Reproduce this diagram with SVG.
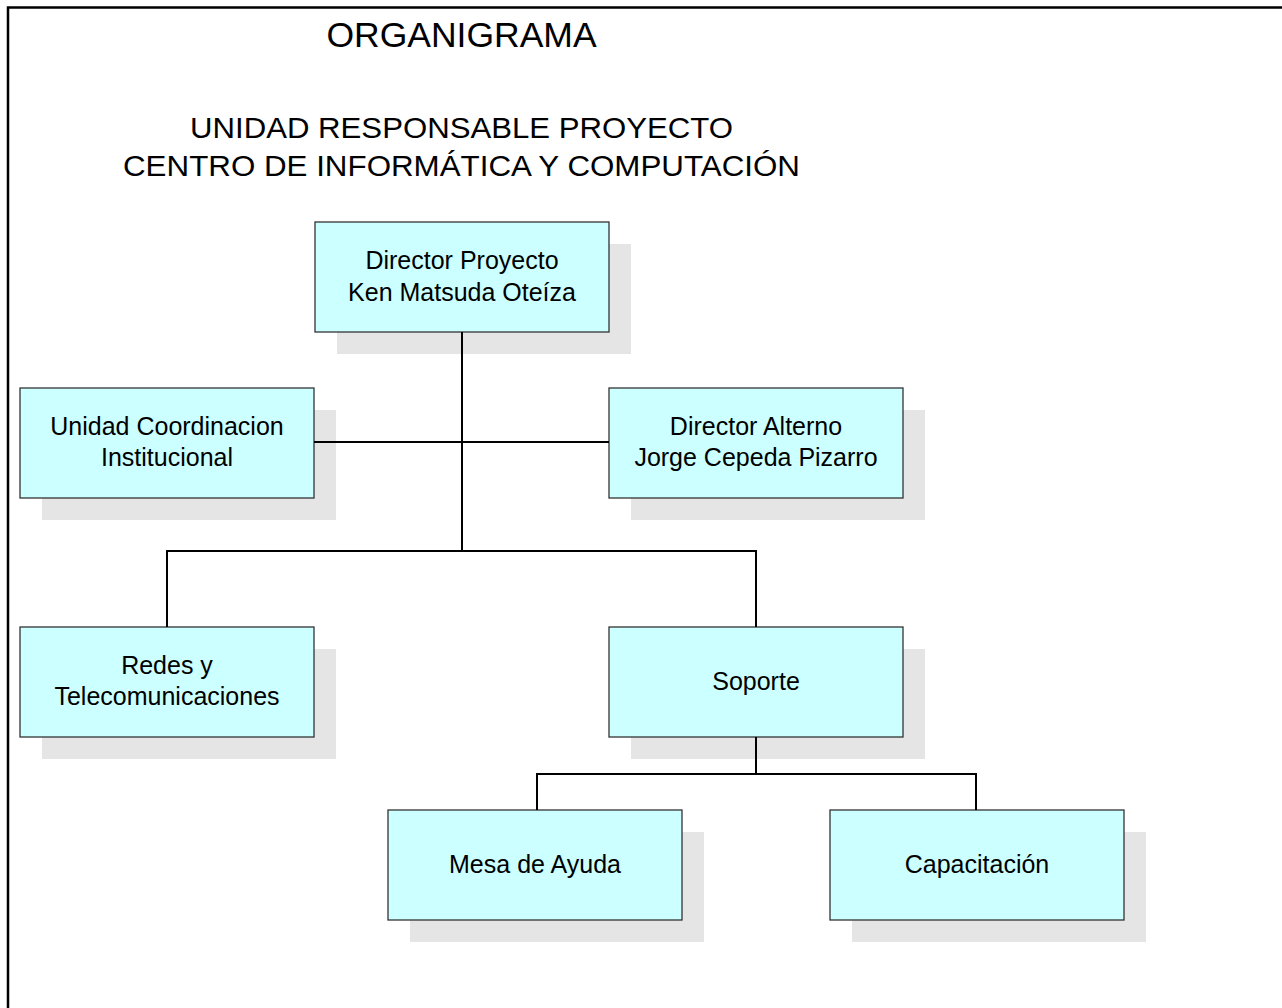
<svg xmlns="http://www.w3.org/2000/svg" width="1282" height="1008" viewBox="0 0 1282 1008">
<style>
.shadow{fill:#e5e5e5}
.box{fill:#ccffff;stroke:#333;stroke-width:1.3}
.lbl{font-family:"Liberation Sans",Arial,sans-serif;font-size:25px;fill:#000;text-anchor:middle}
.title{font-family:"Liberation Sans",Arial,sans-serif;fill:#000;text-anchor:middle}
.conn{fill:none;stroke:#000;stroke-width:2}
</style>
<rect width="1282" height="1008" fill="#fff"/>
<path d="M8,1008 V7.5 H1282" fill="none" stroke="#000" stroke-width="2.5"/>
<text class="title" x="461.5" y="47" font-size="35.5">ORGANIGRAMA</text>
<text class="title" x="461.5" y="138" font-size="29" textLength="543" lengthAdjust="spacingAndGlyphs">UNIDAD RESPONSABLE PROYECTO</text>
<text class="title" x="461.5" y="176" font-size="29" textLength="677" lengthAdjust="spacingAndGlyphs">CENTRO DE INFORMÁTICA Y COMPUTACIÓN</text>
<g id="director-proyecto">
<rect class="shadow" x="337" y="244" width="294" height="110"/>
<rect class="box" x="315" y="222" width="294" height="110"/>
<text class="lbl" x="462" y="269">Director Proyecto</text>
<text class="lbl" x="462" y="301">Ken Matsuda Oteíza</text>
</g>
<g id="unidad-coordinacion">
<rect class="shadow" x="42" y="410" width="294" height="110"/>
<rect class="box" x="20" y="388" width="294" height="110"/>
<text class="lbl" x="167" y="435">Unidad Coordinacion</text>
<text class="lbl" x="167" y="466">Institucional</text>
</g>
<g id="director-alterno">
<rect class="shadow" x="631" y="410" width="294" height="110"/>
<rect class="box" x="609" y="388" width="294" height="110"/>
<text class="lbl" x="756" y="435">Director Alterno</text>
<text class="lbl" x="756" y="466">Jorge Cepeda Pizarro</text>
</g>
<g id="redes">
<rect class="shadow" x="42" y="649" width="294" height="110"/>
<rect class="box" x="20" y="627" width="294" height="110"/>
<text class="lbl" x="167" y="674">Redes y</text>
<text class="lbl" x="167" y="705">Telecomunicaciones</text>
</g>
<g id="soporte">
<rect class="shadow" x="631" y="649" width="294" height="110"/>
<rect class="box" x="609" y="627" width="294" height="110"/>
<text class="lbl" x="756" y="690">Soporte</text>
</g>
<g id="mesa-de-ayuda">
<rect class="shadow" x="410" y="832" width="294" height="110"/>
<rect class="box" x="388" y="810" width="294" height="110"/>
<text class="lbl" x="535" y="873">Mesa de Ayuda</text>
</g>
<g id="capacitacion">
<rect class="shadow" x="852" y="832" width="294" height="110"/>
<rect class="box" x="830" y="810" width="294" height="110"/>
<text class="lbl" x="977" y="873">Capacitación</text>
</g>
<g id="connectors">
<path class="conn" d="M462,332 V551"/>
<path class="conn" d="M314,442 H609"/>
<path class="conn" d="M167,627 V551 H756 V627"/>
<path class="conn" d="M756,737 V774"/>
<path class="conn" d="M537,810 V774 H976 V810"/>
</g>
</svg>
